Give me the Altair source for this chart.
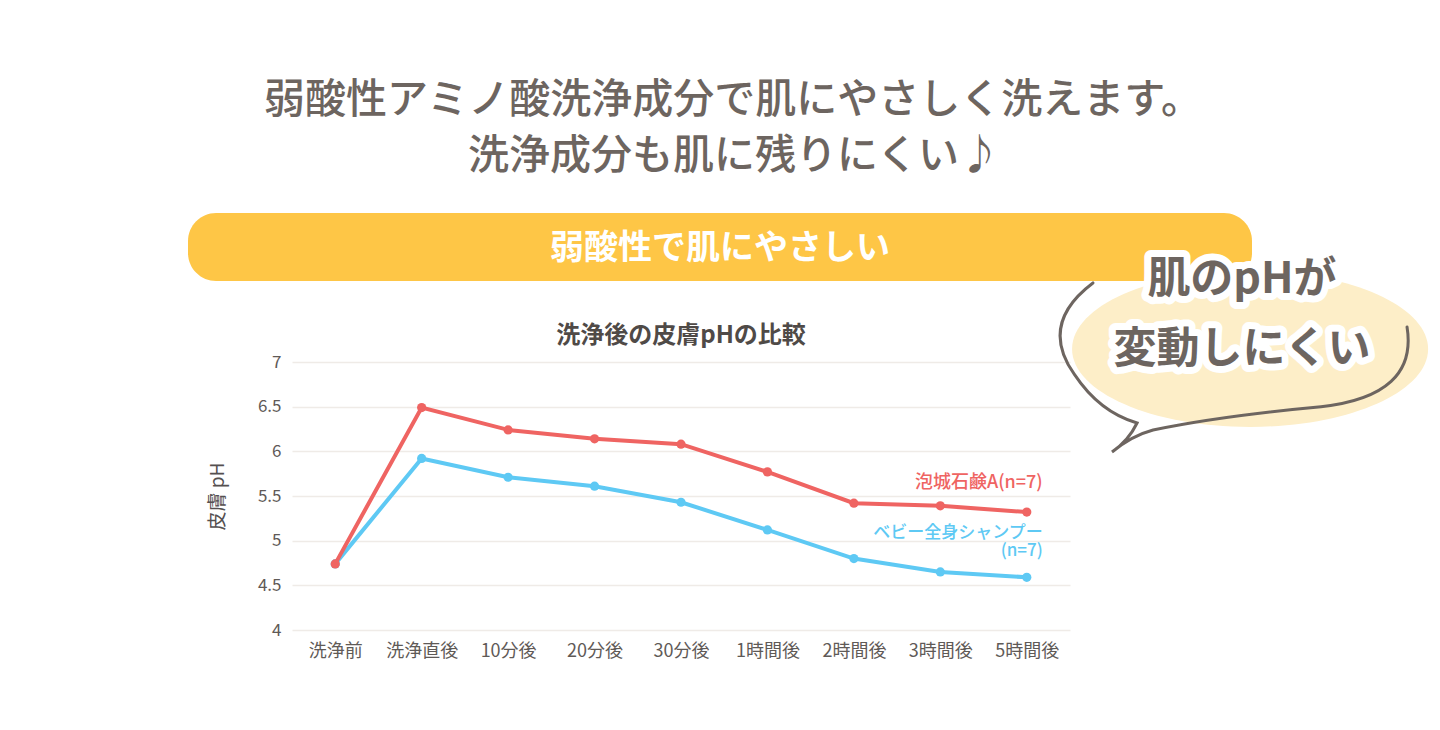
import altair as alt
import pandas as pd

# ---- data ----
categories = ["洗浄前", "洗浄直後", "10分後", "20分後", "30分後", "1時間後", "2時間後", "3時間後", "5時間後"]
foam_soap = [4.74, 6.49, 6.24, 6.14, 6.08, 5.77, 5.42, 5.39, 5.32]
baby_shampoo = [4.74, 5.92, 5.71, 5.61, 5.43, 5.12, 4.80, 4.65, 4.59]
series_names = ["泡城石鹸A(n=7)", "ベビー全身シャンプー(n=7)"]
series_colors = ["#ef6462", "#5ec9f4"]
y_ticks = [4, 4.5, 5, 5.5, 6, 6.5, 7]

headline = ["弱酸性アミノ酸洗浄成分で肌にやさしく洗えます。", "洗浄成分も肌に残りにくい♪"]
banner_text = "弱酸性で肌にやさしい"
bubble_text = ["肌のpHが", "変動しにくい"]
chart_title = "洗浄後の皮膚pHの比較"
y_title = "皮膚 pH"
red_label_text = "泡城石鹸A(n=7)"
blue_label_text = ["ベビー全身シャンプー", "(n=7)"]

FONT = "Noto Sans CJK JP"
TEXT_COL = "#6d6560"

rows = []
for i, c in enumerate(categories):
    rows.append({"time": c, "pH": foam_soap[i], "series": series_names[0]})
    rows.append({"time": c, "pH": baby_shampoo[i], "series": series_names[1]})
df = pd.DataFrame(rows)

W, H = 778, 268

x_enc = alt.X("time:N", sort=categories, title=None,
              axis=alt.Axis(labelAngle=0, labelFontSize=18, labelColor="#5f5a57",
                            labelFont=FONT, domain=False, ticks=False, labelPadding=12,
                            grid=False))
y_enc = alt.Y("pH:Q", title=y_title,
              scale=alt.Scale(domain=[4, 7], nice=False, zero=False),
              axis=alt.Axis(values=y_ticks, labelExpr="datum.value", labelFontSize=17,
                            labelColor="#5f5a57", labelFont=FONT, domain=False, ticks=False,
                            labelPadding=11, grid=True, gridColor="#efebe7", gridWidth=1.6,
                            titleFont=FONT, titleFontSize=19, titleColor="#555050",
                            titleFontWeight="normal", titlePadding=30))
color_enc = alt.Color("series:N", scale=alt.Scale(domain=series_names, range=series_colors),
                      legend=None)

base = alt.Chart(df).encode(x=x_enc, y=y_enc, color=color_enc)

lines = []
for name in [series_names[1], series_names[0]]:
    sub = base.transform_filter(alt.datum.series == name)
    lines.append(sub.mark_line(strokeWidth=4))
    lines.append(sub.mark_point(filled=True, size=85, opacity=1))

last = categories[-1]
lab_df = pd.DataFrame({"time": [last], "pH": [foam_soap[-1]], "series": [series_names[0]]})
lab_df2 = pd.DataFrame({"time": [last], "pH": [baby_shampoo[-1]], "series": [series_names[1]]})

red_label = alt.Chart(lab_df).mark_text(align="right", baseline="middle", dx=16, dy=-29,
                                        fontSize=18, font=FONT, fontWeight=500).encode(
    x=alt.X("time:N", sort=categories), y="pH:Q", color=color_enc,
    text=alt.value(red_label_text))
blue_label = alt.Chart(lab_df2).mark_text(align="right", baseline="top", dx=16, dy=-52,
                                          lineHeight=18, fontSize=17, font=FONT,
                                          fontWeight=500).encode(
    x=alt.X("time:N", sort=categories), y="pH:Q", color=color_enc,
    text=alt.value(blue_label_text))

# ---- decorations (positioned in pixels relative to the plot area) ----
one = pd.DataFrame({"k": [0]})
deco = alt.Chart(one)

title_t = deco.mark_text(font=FONT, fontSize=24, fontWeight="bold", color="#4f4a47",
                         align="center", baseline="middle").encode(
    x=alt.value(389), y=alt.value(-26), text=alt.value(chart_title))

head1 = deco.mark_text(font=FONT, fontSize=41, fontWeight=500, color=TEXT_COL,
                       align="center", baseline="middle").encode(
    x=alt.value(441), y=alt.value(-261), text=alt.value(headline[0]))
head2 = deco.mark_text(font=FONT, fontSize=41, fontWeight=500, color=TEXT_COL,
                       align="center", baseline="middle").encode(
    x=alt.value(442), y=alt.value(-205), text=alt.value(headline[1]))

blob_path = "M-0.933,-0.028 A0.989,0.433 0 1,0 1.045,-0.028 A0.989,0.433 0 1,0 -0.933,-0.028 Z"
blob = deco.mark_point(shape=blob_path, filled=True, fill="#fdeec8", opacity=1,
                       strokeWidth=0, size=129600).encode(
    x=alt.value(948), y=alt.value(-8))

banner = deco.mark_rect(color="#fec646", cornerRadius=28).encode(
    x=alt.value(-104), x2=alt.value(960), y=alt.value(-149), y2=alt.value(-81))
banner_t = deco.mark_text(font=FONT, fontSize=34, fontWeight="bold", color="white",
                          align="center", baseline="middle").encode(
    x=alt.value(428), y=alt.value(-113), text=alt.value(banner_text))

outline_path = ("M-0.817,-0.428 Q-1.12,-0.2 -0.92,0.08 Q-0.78,0.29 -0.572,0.35 "
                "Q-0.62,0.45 -0.711,0.511 Q-0.6,0.42 -0.483,0.389 "
                "Q-0.1,0.31 0.45,0.26 Q0.99,0.2 0.928,-0.183")
outline = deco.mark_point(shape=outline_path, filled=False, stroke="#6d6560", strokeWidth=3,
                          opacity=1, size=129600, strokeCap="round").encode(
    x=alt.value(948), y=alt.value(-2))

bubble_layers = []
for txt, yy in zip(bubble_text, [-82, -12]):
    bubble_layers.append(deco.mark_text(font=FONT, fontSize=43, fontWeight="bold", color="white",
                                        stroke="white", strokeWidth=14, strokeJoin="round",
                                        align="center", baseline="middle").encode(
        x=alt.value(950), y=alt.value(yy), text=alt.value(txt)))
for txt, yy in zip(bubble_text, [-82, -12]):
    bubble_layers.append(deco.mark_text(font=FONT, fontSize=43, fontWeight="bold", color=TEXT_COL,
                                        align="center", baseline="middle").encode(
        x=alt.value(950), y=alt.value(yy), text=alt.value(txt)))

chart = alt.layer(
    base.mark_line(opacity=0),
    *lines, red_label, blue_label,
    title_t, head1, head2, blob, banner, banner_t, outline, *bubble_layers
).properties(
    width=W, height=H,
    autosize=alt.AutoSizeParams(type="none"),
    padding={"left": 284, "top": 354, "right": 360, "bottom": 90},
    background="white",
).configure_view(stroke=None)

chart.save("out.html", embed_options={"renderer": "svg", "actions": False})
